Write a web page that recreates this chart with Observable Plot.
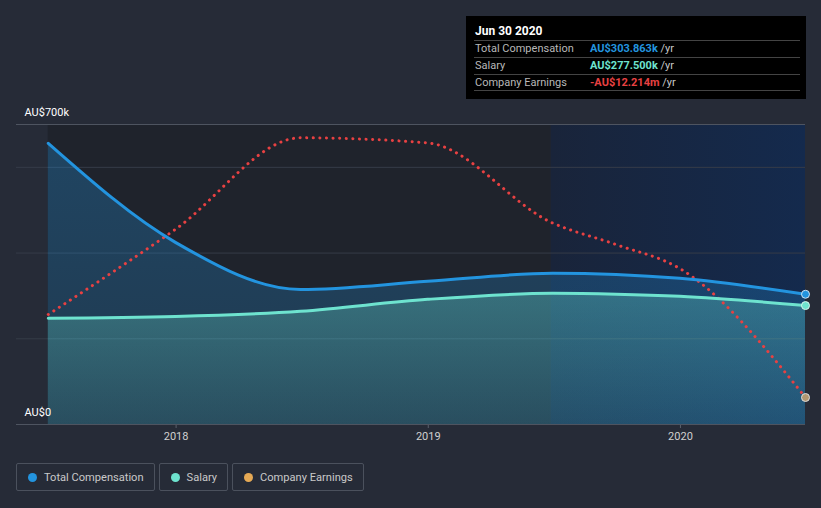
<!DOCTYPE html>
<html>
<head>
<meta charset="utf-8">
<script src="https://cdn.jsdelivr.net/npm/d3@7"></script>
<script src="https://cdn.jsdelivr.net/npm/@observablehq/plot@0.6"></script>
<style>
  html, body { margin: 0; padding: 0; background: #262b37; width: 821px; height: 508px; overflow: hidden; font-family: Roboto, "Noto Sans", sans-serif; }
  #wrap { position: relative; width: 821px; height: 508px; }
  #chart { position: absolute; left: 0; top: 0; }
  #tip { position: absolute; left: 466px; top: 16px; width: 340px; height: 83px; background: #000; box-sizing: border-box; padding: 0 8px 0 8px; }
  #tip .title { color: #fff; font-weight: bold; font-size: 12px; position: absolute; left: 9px; top: 8px; }
  #tip .row { position: absolute; left: 8px; right: 6px; height: 17px; border-top: 1px solid #444; font-size: 11px; line-height: 16px; }
  #tip .lab { position: absolute; left: 1px; color: #b8b8b8; }
  #tip .val { position: absolute; left: 116px; font-weight: bold; }
  #tip .yr { color: #c8c8c8; font-weight: normal; }
  #tip .last { position: absolute; left: 8px; right: 6px; top: 74px; border-top: 1px solid #444; }
  #legend { position: absolute; top: 463px; left: 16px; display: flex; gap: 4px; }
  .item { border: 1px solid #4b515d; border-radius: 2px; height: 28px; box-sizing: border-box; display: flex; align-items: center; padding: 0 10px 0 11px; color: #c9c9c9; font-size: 11.1px; }
  .dot { width: 9px; height: 9px; border-radius: 50%; margin-right: 7px; }
</style>
</head>
<body>
<div id="wrap">
  <div id="chart"></div>
  <div id="tip"></div>
  <div id="legend"></div>
</div>
<script>
// ---- data ----
const dates = ["2017-06-30", "2017-12-31", "2018-06-30", "2018-12-31", "2019-06-30", "2019-09-30", "2019-12-31", "2020-06-30"];
const totalComp = [656, 425, 315, 334, 353, 350, 341, 303.863];   // AU$k
const salary = [248, 252, 264, 292, 306, 304, 299, 277.5];         // AU$k
const earnings = [-8.95, -5.6, -2.0, -2.2, -5.35, -6.2, -7.14, -12.214]; // AU$m
const yTicks = [0, 200000, 400000, 600000, 700000];
const yLabels = [{v: 0, t: "AU$0"}, {v: 700000, t: "AU$700k"}];
const xTicks = ["2018-01-01", "2019-01-01", "2020-01-01"];
const xDomain = ["2017-05-15", "2020-06-30"];
const highlightStart = "2019-06-28";
const earningsDomain = [-13.276, -1.476]; // hidden secondary axis
const seriesNames = ["Total Compensation", "Salary", "Company Earnings"];
const seriesColors = ["#2394df", "#6ee3cf", "#e5a955"];
const tipDate = "Jun 30 2020";
const tipValues = ["AU$303.863k", "AU$277.500k", "-AU$12.214m"];
const tipColors = ["#2394df", "#6ee3cf", "#e84142"];

// ---- build ----
const parse = d3.utcParse("%Y-%m-%d");
const eScale = d3.scaleLinear().domain(earningsDomain).range([0, 700000]);
const rows = dates.map((d, i) => ({
  date: parse(d),
  comp: totalComp[i] * 1000,
  salary: salary[i] * 1000,
  earn: eScale(earnings[i])
}));
const last = rows[rows.length - 1];
const bands = [
  {x1: rows[0].date, x2: parse(highlightStart), fill: "#1f232c"},
  {x1: parse(highlightStart), x2: last.date, fill: "url(#hl)"}
];

const defsMark = () => {
  const ns = "http://www.w3.org/2000/svg";
  const defs = document.createElementNS(ns, "defs");
  defs.innerHTML = `<linearGradient id="hl" x1="0" x2="1" y1="0" y2="0">
      <stop offset="0" stop-color="#19243a"/><stop offset="1" stop-color="#142a4d"/></linearGradient>
    <linearGradient id="compG" x1="0" x2="0" y1="0" y2="1">
      <stop offset="0" stop-color="#2394df" stop-opacity="0.3"/><stop offset="1" stop-color="#2394df" stop-opacity="0.2"/></linearGradient>
    <linearGradient id="salG" x1="0" x2="0" y1="0" y2="1">
      <stop offset="0" stop-color="#6ee3cf" stop-opacity="0.3"/><stop offset="1" stop-color="#6ee3cf" stop-opacity="0.12"/></linearGradient>`;
  return defs;
};

const chart = Plot.plot({
  width: 821,
  height: 450,
  marginLeft: 16,
  marginRight: 16,
  marginTop: 124,
  marginBottom: 26,
  style: {background: "transparent", color: "#d0d0d0", fontFamily: "Roboto, sans-serif", fontSize: "11px"},
  x: {type: "utc", domain: xDomain.map(parse), ticks: xTicks.map(parse), tickFormat: d3.utcFormat("%Y"), tickSize: 4, tickPadding: 4, label: null},
  y: {domain: [0, 700000], axis: null},
  marks: [
    defsMark,
    Plot.rect(bands, {x1: "x1", x2: "x2", y1: 0, y2: 700000, fill: d => d.fill}),
    Plot.ruleY(yTicks, {stroke: d => (d === 0 || d === 700000) ? "#4e5460" : "#363c48", strokeWidth: 1}),
    Plot.areaY(rows, {x: "date", y: "comp", fill: "url(#compG)", curve: "monotone-x"}),
    Plot.areaY(rows, {x: "date", y: "salary", fill: "url(#salG)", curve: "monotone-x"}),
    Plot.line(rows, {x: "date", y: "earn", stroke: "#e84142", strokeWidth: 3, strokeDasharray: "0.1 6.5", strokeLinecap: "round", curve: "monotone-x"}),
    Plot.line(rows, {x: "date", y: "comp", stroke: "#2394df", strokeWidth: 3, curve: "monotone-x"}),
    Plot.line(rows, {x: "date", y: "salary", stroke: "#6ee3cf", strokeWidth: 3, curve: "monotone-x"}),
    Plot.dot([last], {x: "date", y: "comp", r: 4, fill: "#2394df", stroke: "#cfe3f5", strokeWidth: 1}),
    Plot.dot([last], {x: "date", y: "salary", r: 4, fill: "#6ee3cf", stroke: "#d8f5ef", strokeWidth: 1}),
    Plot.dot([last], {x: "date", y: "earn", r: 4, fill: "#b39770", stroke: "#dddddd", strokeWidth: 1}),
    Plot.text(yLabels, {y: "v", text: "t", frameAnchor: "left", dx: 8, dy: -12, textAnchor: "start", fill: "#ffffff", fontSize: 11})
  ]
});
document.getElementById("chart").appendChild(chart);
d3.select(chart).selectAll("g[aria-label='x-axis tick'] path").attr("stroke", "#5a606c");

// tooltip
const tip = document.getElementById("tip");
let html = `<div class="title">${tipDate}</div>`;
seriesNames.forEach((n, i) => {
  html += `<div class="row" style="top:${24 + i * 17}px"><span class="lab">${n}</span><span class="val" style="color:${tipColors[i]}">${tipValues[i]} <span class="yr">/yr</span></span></div>`;
});
html += `<div class="last"></div>`;
tip.innerHTML = html;

// legend
const legend = document.getElementById("legend");
seriesNames.forEach((n, i) => {
  const it = document.createElement("div");
  it.className = "item";
  it.innerHTML = `<span class="dot" style="background:${seriesColors[i]}"></span>${n}`;
  legend.appendChild(it);
});
</script>
</body>
</html>
